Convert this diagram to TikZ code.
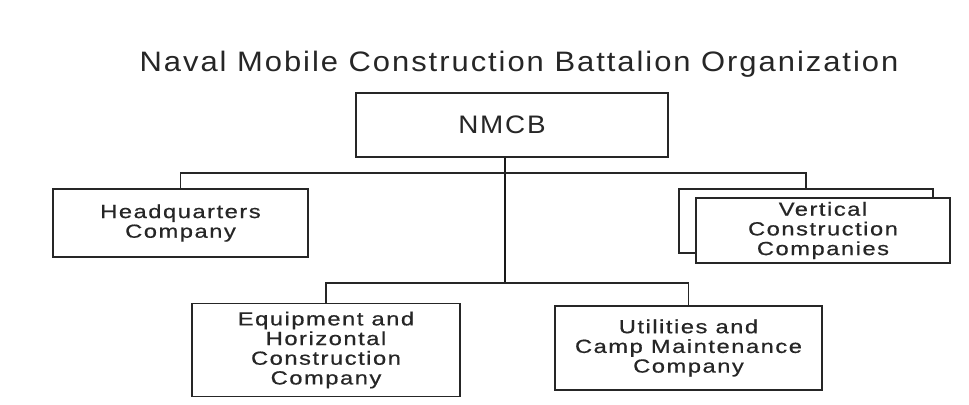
\documentclass[tikz,border=0pt]{standalone}
\usepackage{fontspec}
\usepackage{tikz}
\newfontfamily\headfont[FakeStretch=1.1,LetterSpace=7]{Liberation Sans}
\newfontfamily\unitfont[FakeStretch=1.25,LetterSpace=8,FakeBold=0.6]{Liberation Sans}
\tikzset{
  unit/.style={draw=black!85, line width=0.8pt, fill=white, inner sep=0pt, align=center,
    text=black!85, font=\unitfont\fontsize{13.5pt}{14pt}\selectfont},
  link/.style={draw=black!85, line width=0.8pt},
  trunk/.style={draw=black!90, line width=1.4pt}
}
\begin{document}
\begin{tikzpicture}[x=0.025cm,y=-0.025cm]
\useasboundingbox (0,0) rectangle (969,405);
\node[text=black!85, font=\headfont\fontsize{20pt}{22pt}\selectfont] (title) at (519,64) {Naval Mobile Construction Battalion Organization};
\node[unit, minimum width=7.8cm, minimum height=1.6cm, font=\headfont\fontsize{18pt}{20pt}\selectfont] (nmcb) at (512,125) {NMCB\hspace*{0.5cm}};
\node[unit, minimum width=6.375cm, minimum height=1.7cm] (hq) at (180.5,223) {Headquarters\\Company};
\node[unit, minimum width=6.35cm, minimum height=1.6cm] (vback) at (806,221) {};
\node[unit, minimum width=6.35cm, minimum height=1.625cm] (vert) at (823,230.5) {Vertical\\Construction\\Companies};
\node[unit, minimum width=6.7cm, minimum height=2.325cm] (equip) at (326,350) {Equipment and\\Horizontal\\Construction\\Company};
\node[unit, minimum width=6.675cm, minimum height=2.1cm] (util) at (688.5,348) {Utilities and\\Camp Maintenance\\Company};
% branch points on the trunk
\coordinate (upper) at (505,173);
\coordinate (lower) at (505,283);
\draw[trunk] (nmcb.south -| upper) -- (lower);
\draw[link] (hq.north) |- (upper) -| (vback.north);
\draw[link] (equip.north) |- (lower) -| (util.north);
\end{tikzpicture}
\end{document}
